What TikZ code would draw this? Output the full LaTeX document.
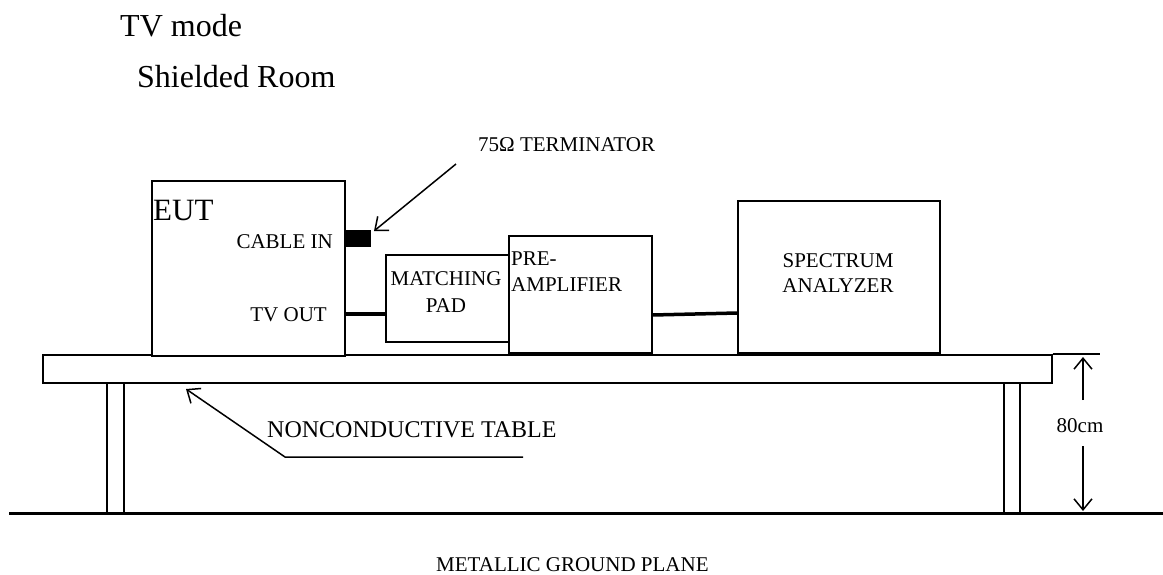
\documentclass[tikz,border=0pt]{standalone}
\usepackage{fontspec}
\setmainfont{Liberation Serif}
\usetikzlibrary{arrows.meta}
\tikzset{
  box/.style={draw, line width=1.6pt, anchor=north west, inner sep=0pt, fill=white},
  lbl/.style={inner sep=0pt, font=\fontsize{21}{25}\selectfont},
  big/.style={inner sep=0pt, font=\fontsize{32}{38}\selectfont},
  cable/.style={line width=3.5pt},
  pointer/.style={line width=1.5pt, -{Straight Barb[length=11pt,width=18pt,line width=1.5pt]}},
  plain/.style={line width=1.6pt},
}
\begin{document}
\begin{tikzpicture}[x=1pt,y=-1pt]
\useasboundingbox (0,0) rectangle (1163,574);
% titles
\node[big, anchor=base west] (title) at (120,36) {TV mode};
\node[big, anchor=base west] (room) at (137,87) {Shielded Room};
% table and legs
\node[box, minimum width=1009pt, minimum height=28pt] (table) at (42,354) {};
\coordinate (tabext) at (1100,354);
\draw[plain] (table.north east) -- (tabext);
\node[box, minimum width=17pt, minimum height=131pt] (legL) at (106,382) {};
\node[box, minimum width=16pt, minimum height=131pt] (legR) at (1003,382) {};
\coordinate (gl) at (9,513);
\coordinate (gr) at (1163,513);
\draw[line width=3pt] (gl) -- (gr);
% equipment
\node[box, minimum width=193pt, minimum height=175pt] (eut) at (151,180) {};
\node[inner sep=0pt, font=\fontsize{31}{36}\selectfont, anchor=base west] (eutl) at (153,220) {EUT};
\node[lbl, anchor=base east] (cablein) at (333,248) {CABLE IN};
\node[lbl, anchor=base east] (tvout) at (327,321) {TV OUT};
\node[draw, fill=black, anchor=north west, minimum width=26pt, minimum height=16pt, inner sep=0pt] (termbox) at (344,230) {};
\node[box, minimum width=123pt, minimum height=87pt] (pad) at (385,254) {};
\node[lbl, anchor=base] (padl1) at (446,285) {MATCHING};
\node[lbl, anchor=base] (padl2) at (446,312) {PAD};
\node[box, minimum width=143pt, minimum height=117pt] (pre) at (508,235) {};
\node[lbl, anchor=base west] (prel1) at (511,265) {PRE-};
\node[lbl, anchor=base west] (prel2) at (511,291) {AMPLIFIER};
\node[box, minimum width=202pt, minimum height=152pt] (sa) at (737,200) {};
\node[lbl, anchor=base] (sal1) at (838,267) {SPECTRUM};
\node[lbl, anchor=base] (sal2) at (838,292) {ANALYZER};
% cables
\coordinate (tvo) at (0,314);
\coordinate (c2a) at (0,315);
\coordinate (c2b) at (0,313);
\draw[cable] (eut.east |- tvo) -- (pad.west |- tvo);
\draw[cable] (pre.east |- c2a) -- (sa.west |- c2b);
% terminator label
\node[lbl, anchor=base west] (term) at (478,151) {75Ω TERMINATOR};
\coordinate (termtail) at (456,164);
\coordinate (termtip) at (374,231);
\draw[pointer] (termtail) -- (termtip);
% table label
\node[inner sep=0pt, font=\fontsize{24}{29}\selectfont, anchor=base west] (nct) at (267,437) {NONCONDUCTIVE TABLE};
\coordinate (nctend) at (523,457);
\coordinate (nctknee) at (285,457);
\coordinate (ncttip) at (186,389);
\draw[pointer] (nctend) -- (nctknee) -- (ncttip);
% dimension
\node[lbl, anchor=base] (dim) at (1080,432) {80cm};
\coordinate (dimu) at (1083,400);
\coordinate (dimt) at (1083,357);
\coordinate (diml) at (1083,446);
\coordinate (dimb) at (1083,511);
\draw[pointer] (dimu) -- (dimt);
\draw[pointer] (diml) -- (dimb);
% ground label
\node[lbl, anchor=base west] (gnd) at (436,571) {METALLIC GROUND PLANE};
\end{tikzpicture}
\end{document}
